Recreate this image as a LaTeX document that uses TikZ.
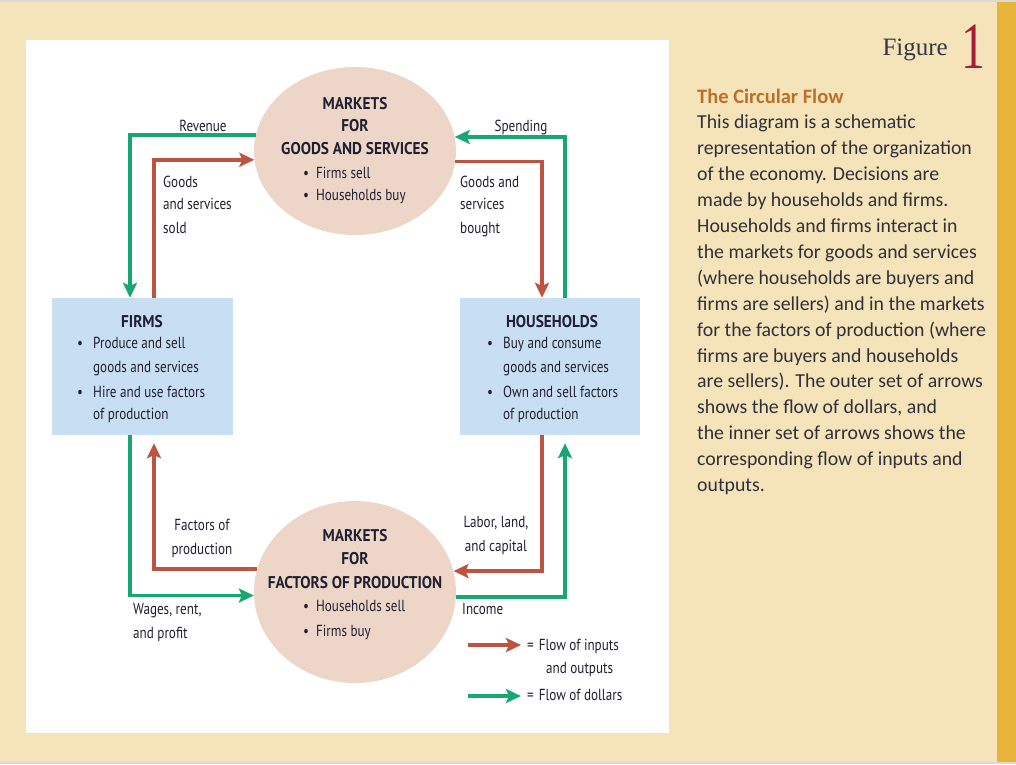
\documentclass[tikz,border=0pt]{standalone}
\usepackage{fontspec}
\setmainfont{Carlito}
\newfontfamily\dfont[FakeStretch=0.82]{PT Sans}
\newfontfamily\dhfont[FakeStretch=0.9]{PT Sans}
\newfontfamily\figfont{Liberation Serif}
\newfontfamily\fignumfont[FakeStretch=0.72]{Liberation Serif}
\usetikzlibrary{arrows.meta,calc,shapes.geometric}
\definecolor{bgbeige}{RGB}{245,228,186}
\definecolor{goldbar}{RGB}{232,180,58}
\definecolor{mktfill}{RGB}{237,214,200}
\definecolor{boxfill}{RGB}{200,222,242}
\definecolor{flowred}{RGB}{189,84,66}
\definecolor{flowgreen}{RGB}{24,166,114}
\definecolor{txt}{RGB}{32,32,50}
\definecolor{bodytxt}{RGB}{48,48,58}
\definecolor{headbrown}{RGB}{186,112,40}
\definecolor{figred}{RGB}{165,28,58}
\begin{document}
\begin{tikzpicture}[x=1pt,y=-1pt,
  market/.style={ellipse,fill=mktfill,draw=none,minimum width=202pt,minimum height=168pt,inner sep=0pt},
  agent/.style={rectangle,fill=boxfill,draw=none,minimum width=181pt,minimum height=137pt,inner sep=0pt},
  dtxt/.style={font=\dfont\fontsize{16}{19}\selectfont,text=txt,inner sep=0pt},
  dhead/.style={font=\dhfont\bfseries\fontsize{17}{20}\selectfont,text=txt,inner sep=0pt},
  body/.style={font=\fontsize{19.8}{22}\selectfont,text=bodytxt,inner sep=0pt,anchor=base west},
  rflow/.style={draw=flowred,line width=3.8pt,-{Stealth[length=15pt,width=14pt,inset=3pt]}},
  gflow/.style={draw=flowgreen,line width=3.8pt,-{Stealth[length=15pt,width=14pt,inset=3pt]}}
]
\useasboundingbox (0,0) rectangle (1016,764);
\fill[bgbeige] (0,0) rectangle (1016,764);
\fill[black!15] (0,0) rectangle (1016,2);
\fill[black!15] (0,762) rectangle (1016,764);
\fill[goldbar] (997,2) rectangle (1016,762);
\fill[white] (26,40) rectangle (669,733);

% nodes
\node[market] (mg) at (355,151) {};
\node[market,minimum height=182pt] (mf) at (355,592) {};
\node[agent] (firms) at (142.5,366.5) {};
\node[agent,minimum width=180pt] (hh) at (550,366.5) {};

% top market text
\node[dhead,anchor=base] (mg1) at (355,109) {MARKETS};
\node[dhead,anchor=base] (mg2) at (355,131) {FOR};
\node[dhead,anchor=base] (mg3) at (355,154) {GOODS AND SERVICES};
\node[dtxt,anchor=base west] (mg4) at (303,178) {\textbullet\hspace{7pt}Firms sell};
\node[dtxt,anchor=base west] (mg5) at (303,200) {\textbullet\hspace{7pt}Households buy};

% bottom market text
\node[dhead,anchor=base] (mf1) at (355,541) {MARKETS};
\node[dhead,anchor=base] (mf2) at (355,564) {FOR};
\node[dhead,anchor=base] (mf3) at (355,588) {FACTORS OF PRODUCTION};
\node[dtxt,anchor=base west] (mf4) at (303,611) {\textbullet\hspace{7pt}Households sell};
\node[dtxt,anchor=base west] (mf5) at (303,636) {\textbullet\hspace{7pt}Firms buy};

% firms text
\node[dhead,anchor=base] (f1) at (142,327) {FIRMS};
\node[dtxt,anchor=base west] (f2) at (77,348) {\textbullet};
\node[dtxt,anchor=base west] (f3) at (93,348) {Produce and sell};
\node[dtxt,anchor=base west] (f4) at (93,372) {goods and services};
\node[dtxt,anchor=base west] (f5) at (77,397) {\textbullet};
\node[dtxt,anchor=base west] (f6) at (93,397) {Hire and use factors};
\node[dtxt,anchor=base west] (f7) at (93,419) {of production};

% households text
\node[dhead,anchor=base] (h1) at (552,327) {HOUSEHOLDS};
\node[dtxt,anchor=base west] (h2) at (487,348) {\textbullet};
\node[dtxt,anchor=base west] (h3) at (503,348) {Buy and consume};
\node[dtxt,anchor=base west] (h4) at (503,372) {goods and services};
\node[dtxt,anchor=base west] (h5) at (487,397) {\textbullet};
\node[dtxt,anchor=base west] (h6) at (503,397) {Own and sell factors};
\node[dtxt,anchor=base west] (h7) at (503,419) {of production};

% flows
\draw[gflow] (mg.171.9) -| ($(firms.north)+(-12.5,0)$);
\draw[rflow] ($(firms.north)+(11.5,0)$) |- (mg.185.75);
\draw[gflow] ($(hh.north)+(15,0)$) |- (mg.8.08);
\draw[rflow] (mg.354.25) -| ($(hh.north)+(-8,0)$);
\draw[rflow] (mf.167.2) -| ($(firms.south)+(11.5,8)$);
\draw[gflow] ($(firms.south)+(-12.5,0)$) |- (mf.182.9);
\draw[rflow] ($(hh.south)+(-8,0)$) |- (mf.12.8);
\draw[gflow] (mf.357.1) -| ($(hh.south)+(15,8)$);

% flow labels
\node[dtxt,anchor=base] (lrev) at (203,131) {Revenue};
\node[dtxt,anchor=base] (lspend) at (521,131) {Spending};
\node[dtxt,anchor=base west] (lg1) at (163,187) {Goods};
\node[dtxt,anchor=base west] (lg2) at (163,209) {and services};
\node[dtxt,anchor=base west] (lg3) at (163,233) {sold};
\node[dtxt,anchor=base west] (lb1) at (460,187) {Goods and};
\node[dtxt,anchor=base west] (lb2) at (460,209) {services};
\node[dtxt,anchor=base west] (lb3) at (460,233) {bought};
\node[dtxt,anchor=base] (lf1) at (202,530) {Factors of};
\node[dtxt,anchor=base] (lf2) at (202,554) {production};
\node[dtxt,anchor=base] (ll1) at (496,527) {Labor, land,};
\node[dtxt,anchor=base] (ll2) at (496,551) {and capital};
\node[dtxt,anchor=base west] (lw1) at (133,614) {Wages, rent,};
\node[dtxt,anchor=base west] (lw2) at (133,638) {and profit};
\node[dtxt,anchor=base west] (linc) at (462,614) {Income};

% legend
\coordinate (lr0) at (468,645);
\coordinate (lr1) at (521,645);
\coordinate (lgr0) at (468,696);
\coordinate (lgr1) at (521,696);
\draw[rflow] (lr0) -- (lr1);
\draw[gflow] (lgr0) -- (lgr1);
\node[dtxt,anchor=base west] (leg1) at (527,650) {=\hspace{5pt}Flow of inputs};
\node[dtxt,anchor=base west] (leg2) at (546,673) {and outputs};
\node[dtxt,anchor=base west] (leg3) at (527,700) {=\hspace{5pt}Flow of dollars};

% figure label
\node[font=\figfont\fontsize{25}{28}\selectfont,text=txt!90,inner sep=0pt,anchor=base east] (fig) at (948,55) {Figure};
\node[font=\fignumfont\fontsize{66}{70}\selectfont,text=figred,inner sep=0pt,anchor=base west] (fignum) at (961,68) {1};

% caption
\node[body,font=\bfseries\fontsize{20.5}{23}\selectfont,text=headbrown] (cap0) at (697,103) {The Circular Flow};
\node[body] (cap1) at (697,128) {This diagram is a schematic};
\node[body] (cap2) at (697,154) {representation of the organization};
\node[body] (cap3) at (697,180) {of the economy. Decisions are};
\node[body] (cap4) at (697,206) {made by households and firms.};
\node[body] (cap5) at (697,232) {Households and firms interact in};
\node[body] (cap6) at (697,258) {the markets for goods and services};
\node[body] (cap7) at (697,284) {(where households are buyers and};
\node[body] (cap8) at (697,310) {firms are sellers) and in the markets};
\node[body] (cap9) at (697,336) {for the factors of production (where};
\node[body] (cap10) at (697,362) {firms are buyers and households};
\node[body] (cap11) at (697,387) {are sellers). The outer set of arrows};
\node[body] (cap12) at (697,413) {shows the flow of dollars, and};
\node[body] (cap13) at (697,439) {the inner set of arrows shows the};
\node[body] (cap14) at (697,465) {corresponding flow of inputs and};
\node[body] (cap15) at (697,491) {outputs.};
\end{tikzpicture}
\end{document}
